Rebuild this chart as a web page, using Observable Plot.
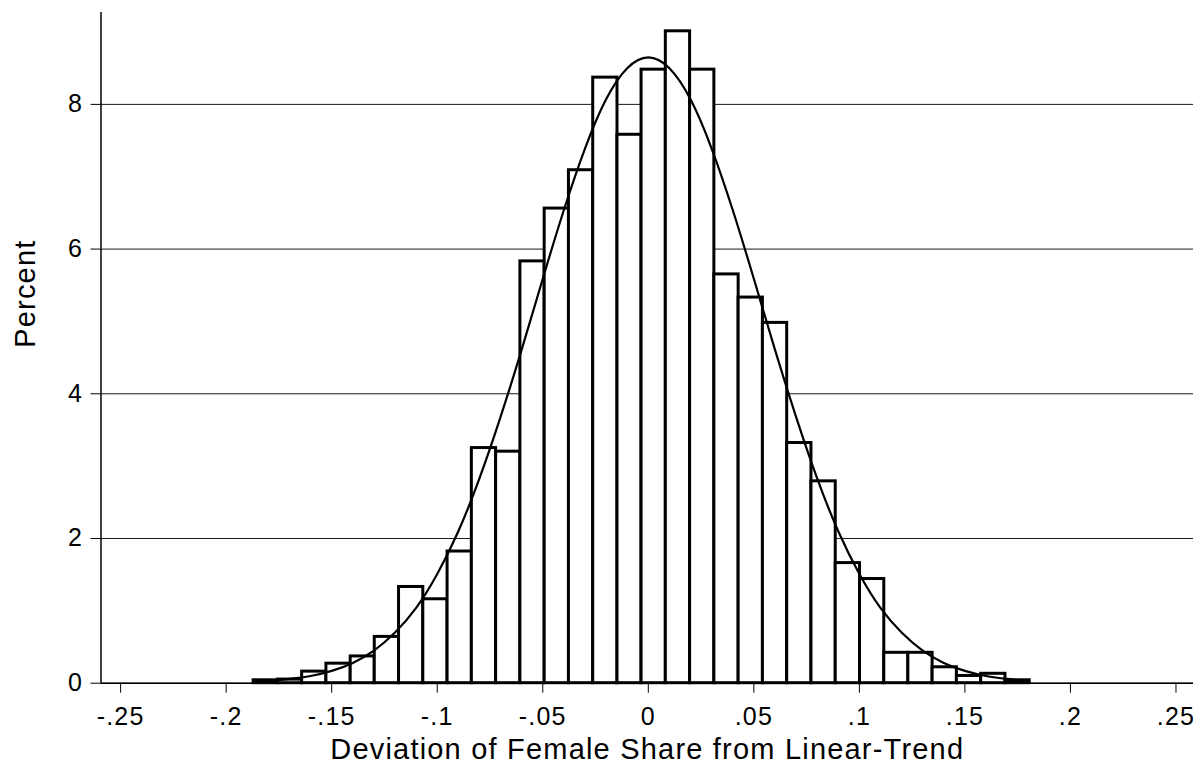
<!DOCTYPE html>
<html>
<head>
<meta charset="utf-8">
<script src="https://cdn.jsdelivr.net/npm/d3@7"></script>
<script src="https://cdn.jsdelivr.net/npm/@observablehq/plot@0.6"></script>
<style>
  html, body { margin: 0; padding: 0; background: #fff; }
  #chart { width: 1198px; height: 770px; }
</style>
</head>
<body>
<div id="chart"></div>
<script>
// ---- data ----
const binEdges = [-0.1870, -0.1755, -0.1640, -0.1525, -0.1410, -0.1296, -0.1181, -0.1066,
  -0.0951, -0.0836, -0.0721, -0.0606, -0.0491, -0.0376, -0.0261, -0.0146, -0.0032,
  0.0083, 0.0198, 0.0313, 0.0428, 0.0543, 0.0658, 0.0773, 0.0888, 0.1003, 0.1118,
  0.1232, 0.1347, 0.1462, 0.1577, 0.1692, 0.1807];
const binPercent = [0.04, 0.05, 0.16, 0.27, 0.37, 0.64, 1.33, 1.16, 1.82, 3.25, 3.20,
  5.83, 6.56, 7.09, 8.37, 7.58, 8.48, 9.01, 8.48, 5.65, 5.33, 4.98, 3.32, 2.79, 1.66,
  1.44, 0.42, 0.42, 0.22, 0.10, 0.13, 0.04];

// normal-density overlay
const curveX = [-0.187, -0.18, -0.17, -0.16, -0.15, -0.14, -0.13, -0.12, -0.11, -0.10,
  -0.09, -0.08, -0.07, -0.06, -0.05, -0.04, -0.03, -0.02, -0.01, 0, 0.01, 0.02, 0.03,
  0.04, 0.05, 0.06, 0.07, 0.08, 0.09, 0.10, 0.11, 0.12, 0.13, 0.14, 0.15, 0.16, 0.17, 0.18];
const curveY = [0.02, 0.03, 0.06, 0.10, 0.17, 0.28, 0.45, 0.70, 1.04, 1.51,
  2.10, 2.83, 3.68, 4.61, 5.59, 6.54, 7.39, 8.07, 8.50, 8.65, 8.50, 8.07, 7.39,
  6.54, 5.59, 4.61, 3.68, 2.83, 2.10, 1.51, 1.04, 0.70, 0.45, 0.28, 0.17, 0.10, 0.06, 0.03];

const xTicks = [-0.25, -0.2, -0.15, -0.1, -0.05, 0, 0.05, 0.1, 0.15, 0.2, 0.25];
const yTicks = [0, 2, 4, 6, 8];
const xTitle = "Deviation of Female Share from Linear-Trend";
const yTitle = "Percent";
const xDomain = [-0.2593, 0.2583];
const yDomain = [0, 9.27];

// ---- tables built from the arrays ----
const bins = binPercent.map((p, i) => ({x1: binEdges[i], x2: binEdges[i + 1], pct: p}));
const curve = curveX.map((x, i) => ({x, y: curveY[i]}));

const fmtX = v => v === 0 ? "0" : String(v).replace("0.", ".");
const fmtY = v => String(v);

const chart = Plot.plot({
  width: 1198,
  height: 770,
  marginLeft: 100.5,
  marginRight: 5,
  marginTop: 12,
  marginBottom: 87.3,
  style: {
    fontFamily: "'Liberation Sans', Arial, Helvetica, sans-serif",
    background: "white",
    color: "black",
    letterSpacing: "1.2px"
  },
  x: {domain: xDomain},
  y: {domain: yDomain},
  marks: [
    Plot.gridY(yTicks, {stroke: "#1a1a1a", strokeOpacity: 1, strokeWidth: 1}),
    Plot.rectY(bins, {x1: "x1", x2: "x2", y: "pct", fill: "white", stroke: "black", strokeWidth: 3}),
    Plot.line(curve, {x: "x", y: "y", curve: "natural", stroke: "black", strokeWidth: 2.2}),
    Plot.ruleY([yDomain[0]], {stroke: "black", strokeWidth: 1.5}),
    Plot.ruleX([xDomain[0]], {stroke: "black", strokeWidth: 1.5}),
    Plot.axisX(xTicks, {tickSize: 10, tickPadding: 14, tickFormat: fmtX, fontSize: 25, label: null}),
    Plot.axisY(yTicks, {tickSize: 10, tickPadding: 8, tickFormat: fmtY, fontSize: 25, label: null}),
    Plot.text([xTitle], {frameAnchor: "bottom", dy: 67, fontSize: 29, lineAnchor: "middle"}),
    Plot.text([yTitle], {frameAnchor: "left", dx: -75, rotate: -90, fontSize: 29, lineAnchor: "middle"})
  ]
});
document.getElementById("chart").appendChild(chart);
</script>
</body>
</html>
